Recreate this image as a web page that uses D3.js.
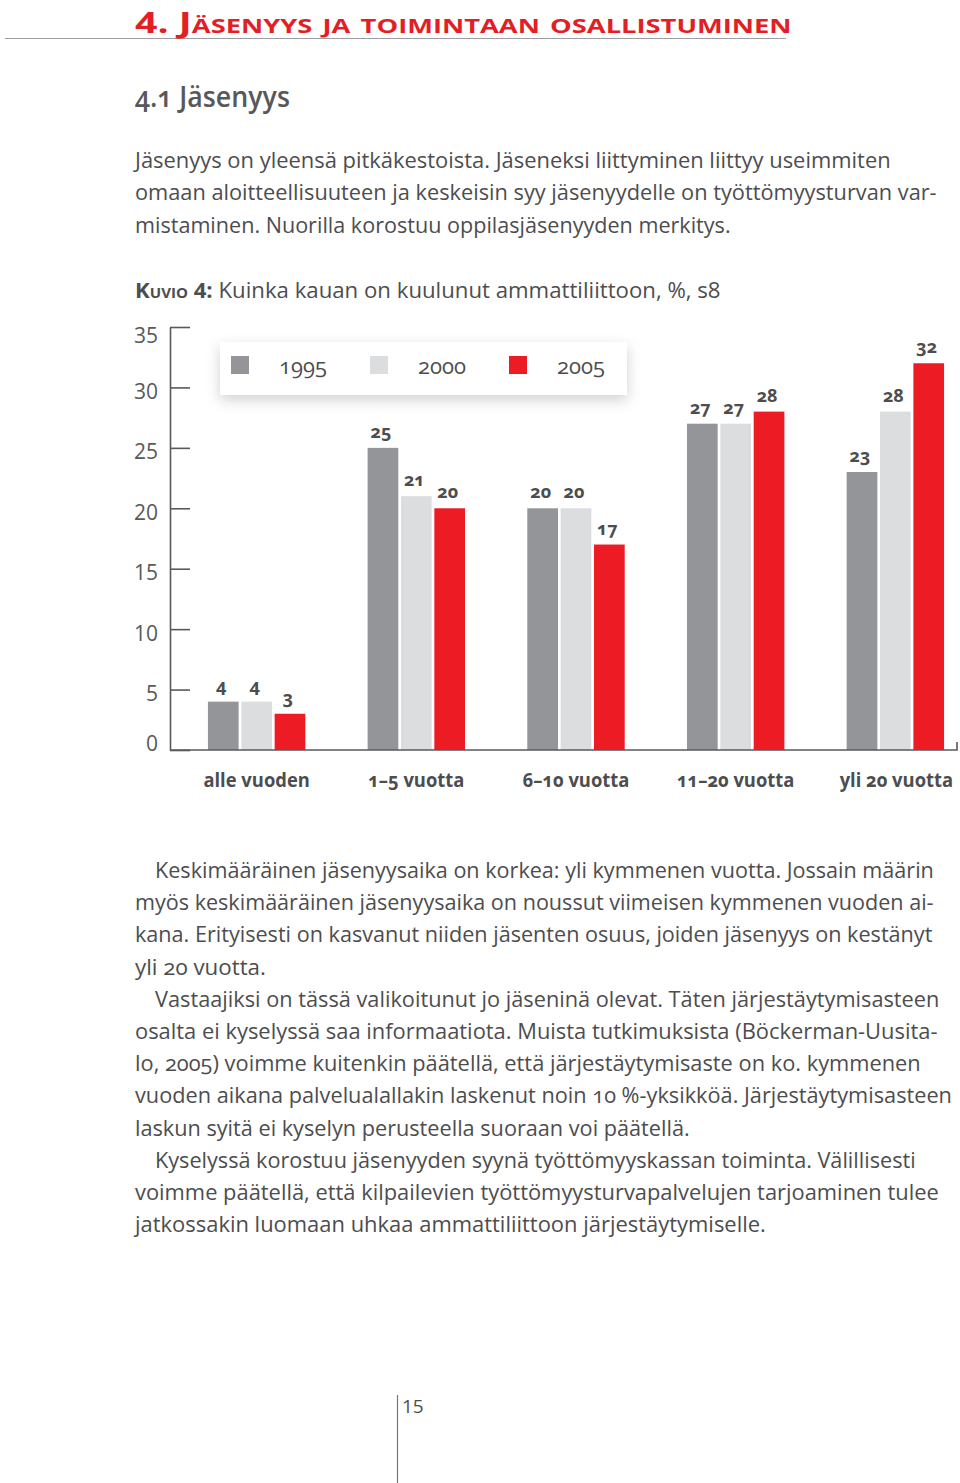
<!DOCTYPE html>
<html><head><meta charset="utf-8">
<script src="https://cdn.jsdelivr.net/npm/d3@7"></script>
<style>
html,body{margin:0;padding:0;background:#fff;}
svg{display:block;}
text{font-family:"Open Sans","Noto Sans",sans-serif;}
</style></head>
<body>
<svg id="page" width="960" height="1483"></svg>
<script>
// ---------- DATA ----------
const categories = ["alle vuoden", "1–5 vuotta", "6–10 vuotta", "11–20 vuotta", "yli 20 vuotta"];
const years = ["1995", "2000", "2005"];
const values1995 = [4, 25, 20, 27, 23];
const values2000 = [4, 21, 20, 27, 28];
const values2005 = [3, 20, 17, 28, 32];
const yTicks = [0, 5, 10, 15, 20, 25, 30, 35];

const titleText = "4. Jäsenyys ja toimintaan osallistuminen";
const headingText = "4.1 Jäsenyys";
const introLines = [
  "Jäsenyys on yleensä pitkäkestoista. Jäseneksi liittyminen liittyy useimmiten",
  "omaan aloitteellisuuteen ja keskeisin syy jäsenyydelle on työttömyysturvan var-",
  "mistaminen. Nuorilla korostuu oppilasjäsenyyden merkitys."
];
const captionBold = "Kuvio 4:";
const captionRest = " Kuinka kauan on kuulunut ammattiliittoon, %, s8";
const bodyLines = [
  "Keskimääräinen jäsenyysaika on korkea: yli kymmenen vuotta. Jossain määrin",
  "myös keskimääräinen jäsenyysaika on noussut viimeisen kymmenen vuoden ai-",
  "kana. Erityisesti on kasvanut niiden jäsenten osuus, joiden jäsenyys on kestänyt",
  "yli 20 vuotta.",
  "Vastaajiksi on tässä valikoitunut jo jäseninä olevat. Täten järjestäytymisasteen",
  "osalta ei kyselyssä saa informaatiota. Muista tutkimuksista (Böckerman-Uusita-",
  "lo, 2005) voimme kuitenkin päätellä, että järjestäytymisaste on ko. kymmenen",
  "vuoden aikana palvelualallakin laskenut noin 10 %-yksikköä. Järjestäytymisasteen",
  "laskun syitä ei kyselyn perusteella suoraan voi päätellä.",
  "Kyselyssä korostuu jäsenyyden syynä työttömyyskassan toiminta. Välillisesti",
  "voimme päätellä, että kilpailevien työttömyysturvapalvelujen tarjoaminen tulee",
  "jatkossakin luomaan uhkaa ammattiliittoon järjestäytymiselle."
];
const pageNumber = "15";

// ---------- LAYOUT / STYLE ----------
const textColor = "#4d4d4f";
const red = "#e31e24";
const colors = {"1995": "#939598", "2000": "#dcdddf", "2005": "#ed1c24"};
const introWidths = [756, 802, 596];
const bodyX = [155,135,135,135,155,135,135,135,135,155,135,135];
const bodyW = [779,799,798,131,785,803,786,817,555,761,804,631];

const svg = d3.select("#page");

// squeeze a text (drawn at x=0,y=0 inside its own group) horizontally to width w
function placeFitted(parent, x, y, w, build) {
  const g = parent.append("g");
  const t = g.append("text").attr("x", 0).attr("y", 0);
  build(t);
  const natural = t.node().getComputedTextLength();
  const s = w / natural;
  g.attr("transform", `translate(${x},${y}) scale(${s},1)`);
  return t;
}

// Title
svg.append("line").attr("x1", 5).attr("x2", 786).attr("y1", 38.5).attr("y2", 38.5)
  .attr("stroke", "#9d9d9f").attr("stroke-width", 1.2);
placeFitted(svg, 135, 33, 652, t => t
  .attr("fill", red).attr("font-size", 29).attr("font-weight", 700)
  .style("font-variant", "small-caps").text(titleText));

// Heading
placeFitted(svg, 135, 107, 155, t => t
  .attr("fill", "#58585a").attr("font-size", 28).attr("font-weight", 600)
  .style("font-variant-numeric", "oldstyle-nums").text(headingText));

// Intro paragraph
introLines.forEach((l, i) => {
  placeFitted(svg, 135, 168 + i * 32.3, introWidths[i], t => t
    .attr("fill", textColor).attr("font-size", 22)
    .style("font-variant-numeric", "oldstyle-nums").text(l));
});

// Caption
placeFitted(svg, 135, 298, 586, t => {
  t.attr("fill", textColor).attr("font-size", 22);
  t.append("tspan").attr("font-weight", 700).style("font-variant", "small-caps").text(captionBold);
  t.append("tspan").text(captionRest);
});

// ---------- CHART ----------
const y = d3.scaleLinear().domain([0, 35]).range([750, 327]);
const x0 = d3.scaleBand().domain(categories).range([176, 976]).paddingInner(0.39).paddingOuter(0.2);
const x1 = d3.scaleBand().domain(years).range([0, x0.bandwidth()]).paddingInner(0.08);

const series = {"1995": values1995, "2000": values2000, "2005": values2005};
const rows = categories.map((c, i) => ({cat: c, vals: years.map(yr => ({year: yr, v: series[yr][i]}))}));

const chart = svg.append("g");

// bars
const groups = chart.selectAll("g.grp").data(rows).join("g")
  .attr("class", "grp").attr("transform", d => `translate(${x0(d.cat)},0)`);
groups.selectAll("rect").data(d => d.vals).join("rect")
  .attr("x", d => x1(d.year)).attr("width", x1.bandwidth())
  .attr("y", d => y(d.v)).attr("height", d => y(0) - y(d.v))
  .attr("fill", d => colors[d.year]);
groups.selectAll("text").data(d => d.vals).join("text")
  .attr("x", d => x1(d.year) + x1.bandwidth() / 2 - 2)
  .attr("y", d => y(d.v) - 10)
  .attr("text-anchor", "middle").attr("fill", textColor)
  .attr("font-size", 18).attr("font-weight", 700)
  .style("font-variant-numeric", "oldstyle-nums")
  .text(d => d.v);

// y axis
const yAxis = d3.axisLeft(y).tickValues(yTicks).tickSizeInner(-20).tickSizeOuter(0).tickPadding(12);
const ya = chart.append("g").attr("transform", "translate(170,0)").call(yAxis);
ya.select(".domain").attr("stroke", "#58595b").attr("stroke-width", 1.6);
ya.selectAll(".tick line").attr("stroke", "#58595b").attr("stroke-width", 1.6);
ya.selectAll(".tick text").attr("fill", "#58595b").attr("font-size", 21)
  .attr("font-family", "Open Sans, Noto Sans, sans-serif")
  .attr("dy", d => d === 0 ? "0" : (d === 35 ? "0.72em" : "0.52em"));

// baseline
chart.append("path")
  .attr("d", `M170,${y(0)}H957V${y(0) - 8}`)
  .attr("fill", "none").attr("stroke", "#58595b").attr("stroke-width", 1.6);

// category labels (axis ticks, each label squeezed to a condensed width)
const xAxis = d3.axisBottom(x0).tickSize(0).tickPadding(0);
const xa = chart.append("g").attr("transform", "translate(0,770)").call(xAxis);
xa.select(".domain").remove();
xa.selectAll(".tick text").attr("fill", textColor).attr("font-size", 20).attr("font-weight", 700)
  .attr("font-family", "Open Sans, Noto Sans, sans-serif")
  .style("font-variant-numeric", "oldstyle-nums")
  .attr("dy", "0.85em")
  .attr("transform", (d, i) => `translate(${i === categories.length - 1 ? 1 : 0},0) scale(0.92,1)`);

// legend
const defs = svg.append("defs");
const f = defs.append("filter").attr("id", "shadow").attr("x", "-10%").attr("y", "-50%").attr("width", "120%").attr("height", "220%");
f.append("feDropShadow").attr("dx", 0).attr("dy", 5).attr("stdDeviation", 7)
  .attr("flood-color", "#000").attr("flood-opacity", 0.18);
const legend = chart.append("g");
legend.append("rect").attr("x", 220).attr("y", 342).attr("width", 407).attr("height", 53)
  .attr("fill", "#fff").attr("filter", "url(#shadow)");
const legX = d3.scalePoint().domain(years).range([231, 509]);
const li = legend.selectAll("g.li").data(years).join("g").attr("class", "li");
li.append("rect").attr("x", d => legX(d)).attr("y", 356).attr("width", 18).attr("height", 18)
  .attr("fill", d => colors[d]);
li.append("text").attr("x", d => legX(d) + 48).attr("y", 374)
  .attr("fill", textColor).attr("font-size", 22)
  .style("font-variant-numeric", "oldstyle-nums")
  .text(d => d);

// ---------- BODY TEXT ----------
bodyLines.forEach((l, i) => {
  placeFitted(svg, bodyX[i], 878 + i * 32.2, bodyW[i], t => t
    .attr("fill", textColor).attr("font-size", 22)
    .style("font-variant-numeric", "oldstyle-nums").text(l));
});

// page number
svg.append("line").attr("x1", 397.5).attr("x2", 397.5).attr("y1", 1395).attr("y2", 1483)
  .attr("stroke", "#77787b").attr("stroke-width", 1.2);
svg.append("text").attr("x", 402).attr("y", 1413).attr("fill", textColor).attr("font-size", 19)
  .text(pageNumber);
</script>
</body></html>
